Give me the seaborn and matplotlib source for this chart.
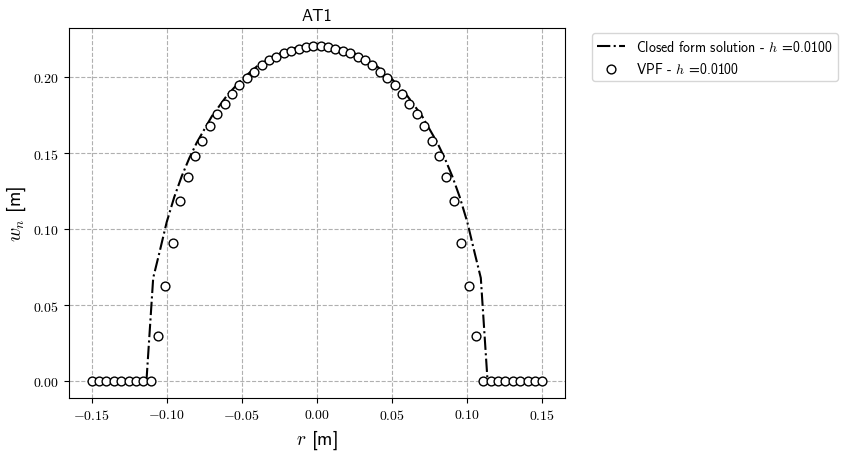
import numpy as np
import pandas as pd
import matplotlib
matplotlib.use('Agg')
import matplotlib.pyplot as plt
import seaborn as sns

# VPF nodal values (62 nodes between -0.15 and 0.15)
r_vpf = np.linspace(-0.15, 0.15, 62)
w_half = [0.0, 0.0, 0.0, 0.0, 0.0, 0.0, 0.0, 0.0, 0.0,
          0.0295, 0.0629, 0.0909, 0.1186, 0.1345, 0.1483, 0.1582,
          0.1681, 0.1758, 0.1828, 0.1892, 0.1949, 0.1998, 0.2037,
          0.2079, 0.2112, 0.2136, 0.2160, 0.2176, 0.2187, 0.2198, 0.2205]
w_vpf = w_half + w_half[::-1]

# closed form solution
r_cf = [-0.1135, -0.109, -0.105, -0.10, -0.095, -0.09, -0.085, -0.08, -0.07,
        -0.06, -0.05, -0.04, -0.03, -0.02, -0.01, 0.0,
        0.01, 0.02, 0.03, 0.04, 0.05, 0.06, 0.07, 0.08, 0.085, 0.09,
        0.095, 0.10, 0.105, 0.109, 0.1135]
w_cf = [0.0, 0.068, 0.0841, 0.1048, 0.1212, 0.1350, 0.1468, 0.1571, 0.1744,
        0.1880, 0.1988, 0.2073, 0.2136, 0.2180, 0.2206, 0.2215,
        0.2206, 0.2180, 0.2136, 0.2073, 0.1988, 0.1880, 0.1744, 0.1571, 0.1468, 0.1350,
        0.1212, 0.1048, 0.0841, 0.068, 0.0]

df_cf = pd.DataFrame({'r': r_cf, 'w': w_cf})
df_vpf = pd.DataFrame({'r': r_vpf, 'w': w_vpf})

plt.rcParams['mathtext.fontset'] = 'cm'
plt.rcParams['font.family'] = ['cmss10', 'DejaVu Sans']
plt.rcParams['axes.formatter.use_mathtext'] = True

fig = plt.figure(figsize=(8.45, 4.56), dpi=100)
ax = fig.add_axes([0.0817, 0.125, 0.5869, 0.8114])

sns.lineplot(data=df_cf, x='r', y='w', ax=ax, color='black', linestyle='-.',
             linewidth=1.5, sort=False, label=r'Closed form solution - $h$ =0.0100')
sns.scatterplot(data=df_vpf, x='r', y='w', ax=ax, marker='o', s=40,
                facecolor='white', edgecolor='black', linewidth=1.0,
                label=r'VPF - $h$ =0.0100', zorder=3)

ax.set_title('AT1', fontsize=12)
ax.set_xlabel(r'$r$ [m]', fontsize=14)
ax.set_ylabel(r'$w_n$ [m]', fontsize=14)
ax.grid(True, linestyle='--', color='#b0b0b0')
ax.set_axisbelow(True)

for lab in ax.get_xticklabels() + ax.get_yticklabels():
    lab.set_fontfamily('cmr10')

ax.legend(bbox_to_anchor=(1.04, 1.005), loc='upper left', fontsize=10)

plt.savefig('out.png', dpi=100)
